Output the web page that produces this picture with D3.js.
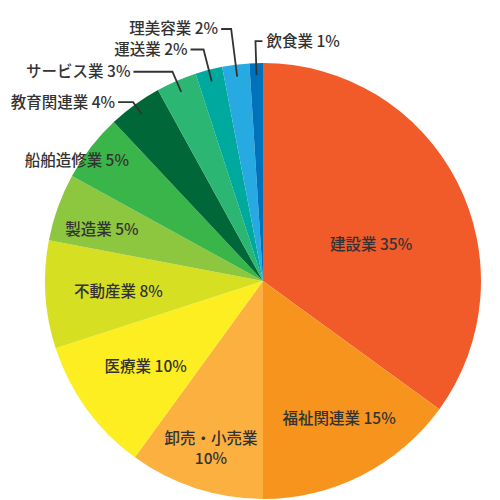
<!DOCTYPE html>
<html><head><meta charset="utf-8">
<script src="https://cdn.jsdelivr.net/npm/d3@7"></script>
<style>html,body{margin:0;padding:0;background:#fff}</style>
</head><body>
<svg id="chart" width="500" height="500"></svg>
<script>
// ---- data ----
const categories = ["建設業","福祉関連業","卸売・小売業","医療業","不動産業","製造業","船舶造修業","教育関連業","サービス業","運送業","理美容業","飲食業"];
const values = [35,15,10,10,8,5,5,4,3,2,2,1];
const colors = ["#f15a29","#f7941d","#fbb040","#fcee21","#d7df23","#8dc63f","#39b54a","#006838","#2bb673","#00a99d","#27aae1","#0072bc"];

// ---- layout ----
const cx = 263, cy = 281, R = 218;
const innerLabelR = [114,157,175,145,145,169,222];
const innerLabelDA = [8.6,-2,-0.7,0,-0.4,-2.2,-4.8]; // degrees
const leaderInnerR = 206;
const leaderElbowR = [221,228,239,254,240];
const leaderHoriz = [-15,-39,-13,-10,7];

const svg = d3.select("#chart");
const g = svg.append("g").attr("transform", `translate(${cx},${cy})`);
const pie = d3.pie().sort(null).value(d => d)(values);
const arc = d3.arc().innerRadius(0).outerRadius(R);

g.selectAll("path.slice").data(pie).join("path")
  .attr("class","slice")
  .attr("d", arc)
  .attr("fill", (d,i) => colors[i]);

const font = "'Noto Sans CJK JP','Noto Sans',sans-serif";
const txtColor = "#333";
const fs = 15.5;
const pt = (r, a) => [r*Math.sin(a), -r*Math.cos(a)];

function addText(x, y, str, anchor) {
  return g.append("text").attr("x",x).attr("y",y).attr("dy","0.35em")
    .attr("text-anchor",anchor).attr("font-family",font)
    .attr("font-size",fs).attr("font-weight",500).attr("fill",txtColor).text(str);
}

pie.forEach((d,i) => {
  const mid = (d.startAngle + d.endAngle)/2;
  const label = categories[i] + " " + values[i] + "%";
  if (i < innerLabelR.length) {
    const [x,y] = pt(innerLabelR[i], mid + innerLabelDA[i]*Math.PI/180);
    if (i === 2) {
      addText(x, y - 10, categories[i], "middle");
      addText(x, y + 10, values[i] + "%", "middle");
    } else {
      addText(x, y, label, "middle");
    }
  } else {
    const k = i - innerLabelR.length;
    const p0 = pt(leaderInnerR, mid);
    const p1 = pt(leaderElbowR[k], mid);
    const p2 = [p1[0] + leaderHoriz[k], p1[1]];
    g.append("path").attr("d", d3.line()([p0,p1,p2]))
      .attr("fill","none").attr("stroke","#333").attr("stroke-width",1.8);
    const right = leaderHoriz[k] > 0;
    addText(p2[0] + (right ? 4 : -3), p2[1], label, right ? "start" : "end");
  }
});
</script>
</body></html>
